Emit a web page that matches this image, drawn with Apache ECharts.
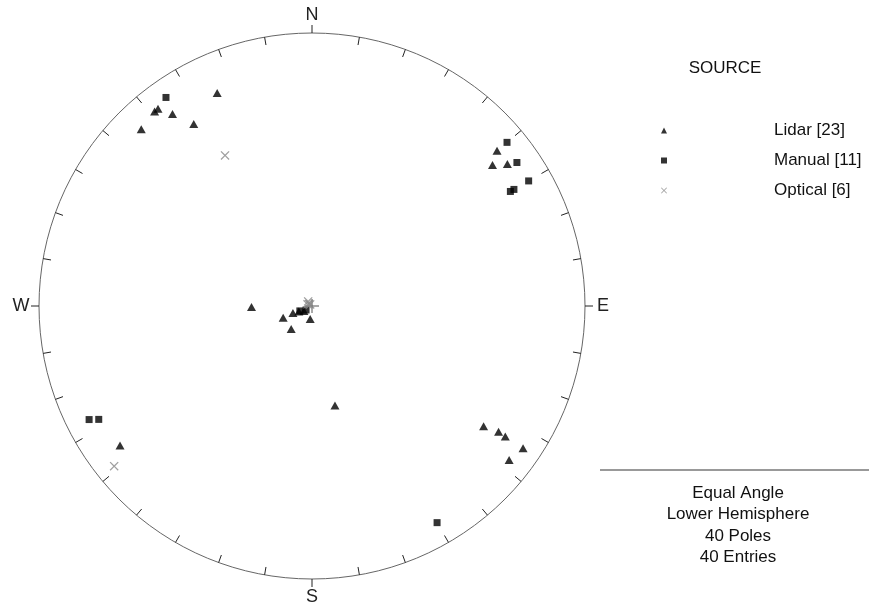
<!DOCTYPE html>
<html><head><meta charset="utf-8">
<script src="https://cdn.jsdelivr.net/npm/echarts@6/dist/echarts.min.js"></script>
<style>html,body{margin:0;padding:0;background:#fff;}#c{width:869px;height:607px;}</style>
</head><body><div id="c"></div>
<script>
// Poles as [trend (deg), plunge (deg)]
const lidarPoles = [
  [336,9],[321,5],[322,5],[324,8],[327,13],[316,6],
  [50,7],[52,10],[54,7],
  [269,65],[248,77],[222,77],[250,81.5],[247,84],[188,84.5],[238,86],
  [167,49],[234,8],
  [125,15],[124,11],[124,9],[124,4],[128,5]
];
const manualPoles = [
  [325,4],[50,4],[55,5],[60,5],[60,10],[60,9],
  [248,84.5],[236,87],[243,5],[242,7],[150,5]
];
const opticalPoles = [
  [330,25],[231,4],[303,88.5],[290,88],[310,89],[320,87.5]
];
const seriesNames = ['Lidar [23]','Manual [11]','Optical [6]'];
const cardinalLabels = ['N','E','S','W'];
const infoLines = ['Equal Angle','Lower Hemisphere','40 Poles','40 Entries'];

function project(p){ // equal-angle (stereographic), lower hemisphere
  const r = Math.tan((90 - p[1]) / 2 * Math.PI / 180);
  const t = p[0] * Math.PI / 180;
  return [r * Math.sin(t), r * Math.cos(t)];
}
const FONT = 'Liberation Sans, Arial, sans-serif';
const xPath = 'path://M0,1L1,0L5,4L9,0L10,1L6,5L10,9L9,10L5,6L1,10L0,9L4,5Z';

const chart = echarts.init(document.getElementById('c'));
const tickAngles = []; for (let a = 0; a < 360; a += 10) tickAngles.push(a);

chart.setOption({
  animation: false,
  backgroundColor: '#fff',
  grid: {left: 39, top: 33, width: 546, height: 546},
  xAxis: {type: 'value', min: -1, max: 1, show: false},
  yAxis: {type: 'value', min: -1, max: 1, show: false},
  legend: {
    orient: 'vertical', left: 656, top: 117, itemGap: 13,
    itemWidth: 6, itemHeight: 6,
    data: [
      {name: seriesNames[0], icon: 'triangle'},
      {name: seriesNames[1], icon: 'rect'},
      {name: seriesNames[2], icon: xPath}
    ],
    formatter: '{a|{name}}',
    textStyle: {fontFamily: FONT, fontSize: 17, color: '#111',
      rich: {a: {fontFamily: FONT, fontSize: 17, color: '#111', padding: [0,0,0,102]}}}
  },
  graphic: [
    {type: 'text', x: 725, y: 68, style: {text: 'SOURCE', font: '17px ' + FONT, fill: '#111', align: 'center', verticalAlign: 'middle'}},
    {type: 'line', shape: {x1: 600, y1: 470, x2: 869, y2: 470}, style: {stroke: '#999', lineWidth: 2}},
    ...infoLines.map((t, i) => ({type: 'text', x: 738, y: 493.5 + i * 21.3,
      style: {text: t, font: '17px ' + FONT, fill: '#111', align: 'center', verticalAlign: 'middle'}}))
  ],
  series: [
    {
      type: 'custom', silent: true, z: 1,
      data: [0],
      renderItem: function (params, api) {
        const c = api.coord([0, 0]);
        const R = api.size([1, 0])[0];
        const children = [{type: 'circle', shape: {cx: c[0], cy: c[1], r: R},
          style: {fill: 'none', stroke: '#666', lineWidth: 1}}];
        tickAngles.forEach(a => {
          const t = a * Math.PI / 180, s = Math.sin(t), co = Math.cos(t);
          const card = a % 90 === 0;
          const r2 = card ? R + 8 : R - 8;
          children.push({type: 'line', shape: {x1: c[0] + R * s, y1: c[1] - R * co, x2: c[0] + r2 * s, y2: c[1] - r2 * co},
            style: {stroke: '#222', lineWidth: 1}});
        });
        cardinalLabels.forEach((lab, i) => {
          const t = i * Math.PI / 2, s = Math.sin(t), co = Math.cos(t);
          const rr = R + 18;
          children.push({type: 'text', style: {text: lab, x: c[0] + rr * s, y: c[1] - rr * co,
            align: 'center', verticalAlign: 'middle', font: '18px ' + FONT, fill: '#222'}});
        });
        children.push({type: 'line', shape: {x1: c[0] - 7, y1: c[1], x2: c[0] + 7, y2: c[1]}, style: {stroke: '#555', lineWidth: 1}});
        children.push({type: 'line', shape: {x1: c[0], y1: c[1] - 7, x2: c[0], y2: c[1] + 7}, style: {stroke: '#555', lineWidth: 1}});
        return {type: 'group', children: children};
      }
    },
    {name: seriesNames[0], type: 'scatter', symbol: 'triangle', symbolSize: [9, 8], z: 3,
      itemStyle: {color: '#000'}, data: lidarPoles.map(project)},
    {name: seriesNames[1], type: 'scatter', symbol: 'rect', symbolSize: 7, z: 3,
      itemStyle: {color: '#000'}, data: manualPoles.map(project)},
    {name: seriesNames[2], type: 'scatter', symbol: xPath, symbolSize: 9, z: 4,
      itemStyle: {color: '#888'}, data: opticalPoles.map(project)}
  ]
});
</script></body></html>
